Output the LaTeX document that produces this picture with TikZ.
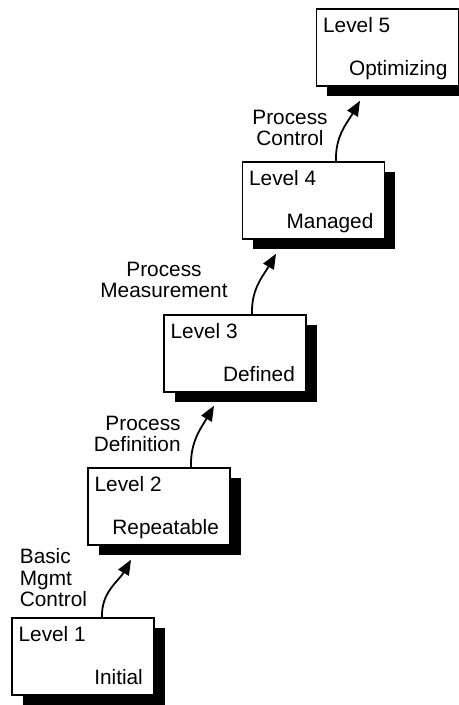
\documentclass[tikz,border=0pt]{standalone}
\usepackage{fontspec}
\setmainfont{Liberation Sans}
\usepackage{tikz}
\usetikzlibrary{arrows.meta,calc,shadows}

\tikzset{
  levelbox/.style={draw,line width=0.75pt,fill=white,minimum width=71pt,minimum height=38.5pt,inner sep=0pt,
    drop shadow={shadow xshift=5.25pt,shadow yshift=-5.25pt,fill=black,opacity=1}},
  boxtext/.style={inner sep=0pt},
  stagelabel/.style={inner sep=0pt},
  climb/.style={-{Triangle[length=7.5pt,width=6pt]},line width=0.9pt}
}

\begin{document}
\begin{tikzpicture}[x=0.5pt,y=0.5pt,font=\fontsize{10.4}{10.75}\selectfont]
			\useasboundingbox (0,0) rectangle (459,705);
			
			% Level boxes
			\node[levelbox] (L1) at (83,48.5) {};
			\node[levelbox] (L2) at (159,198.5) {};
			\node[levelbox] (L3) at (235,351.5) {};
			\node[levelbox] (L4) at (313.5,504.5) {};
			\node[levelbox] (L5) at (387.5,657.5) {};
			
			% Texts inside the boxes
			\node[boxtext,anchor=base west] (n1) at ($(L1.north west)+(7,-24)$) {Level 1};
			\node[boxtext,anchor=base east] (m1) at ($(L1.south east)+(-11.5,11)$) {Initial};
			\node[boxtext,anchor=base west] (n2) at ($(L2.north west)+(7,-24)$) {Level 2};
			\node[boxtext,anchor=base east] (m2) at ($(L2.south east)+(-11.5,11)$) {Repeatable};
			\node[boxtext,anchor=base west] (n3) at ($(L3.north west)+(7,-24)$) {Level 3};
			\node[boxtext,anchor=base east] (m3) at ($(L3.south east)+(-11.5,11)$) {Defined};
			\node[boxtext,anchor=base west] (n4) at ($(L4.north west)+(7,-24)$) {Level 4};
			\node[boxtext,anchor=base east] (m4) at ($(L4.south east)+(-11.5,11)$) {Managed};
			\node[boxtext,anchor=base west] (n5) at ($(L5.north west)+(7,-24)$) {Level 5};
			\node[boxtext,anchor=base east] (m5) at ($(L5.south east)+(-11.5,11)$) {Optimizing};
			
			% Arrows between levels
			\draw[climb] ($(L1.north)+(19,0)$) to[out=92,in=240] ($(L2.south)+(-28,-14)$);
			\draw[climb] ($(L2.north)+(32,0)$) to[out=92,in=240] ($(L3.south)+(-21,-13)$);
			\draw[climb] ($(L3.north)+(17,0)$) to[out=92,in=240] ($(L4.south)+(-37.5,-14)$);
			\draw[climb] ($(L4.north)+(22.5,0)$) to[out=92,in=240] ($(L5.south)+(-27.5,-14)$);
			
			% Labels
			\node[stagelabel,align=left,anchor=base west] (t1) at (19.5,98) {Basic\\Mgmt\\Control};
			\node[stagelabel,align=right,anchor=base east] (t2) at (181,253) {Process\\Definition};
			\node[stagelabel,align=center,anchor=base] (t3) at (164,407) {Process\\Measurement};
			\node[stagelabel,align=center,anchor=base] (t4) at (290,559) {Process\\Control};
		\end{tikzpicture}
\end{document}
